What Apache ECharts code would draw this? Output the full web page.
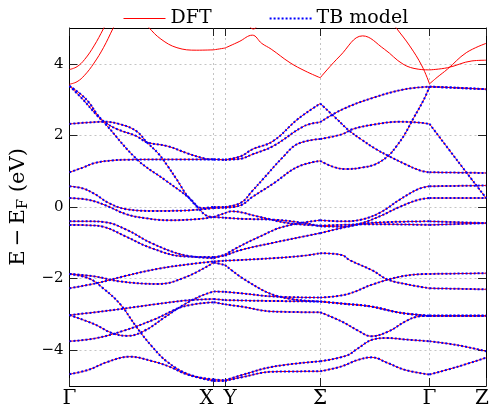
<!DOCTYPE html>
<html>
<head>
<meta charset="utf-8">
<script src="https://cdn.jsdelivr.net/npm/echarts@6.0.0/dist/echarts.min.js"></script>
<style>
html, body { margin: 0; padding: 0; background: #fff; }
#main { width: 492px; height: 409px; }
</style>
</head>
<body>
<div id="main"></div>
<script>
// k-path: high symmetry points and their labels
var kTicks = [0, 1.53, 1.65, 2.66, 3.82, 4.42];
var kLabels = ['Γ', 'X', 'Y', 'Σ', 'Γ', 'Z'];
var eTicks = [-4, -2, 0, 2, 4];

// bands drawn by both DFT and the TB model, [k, E] pairs
var bandA = [[0,3.38],[0.14,3.01],[0.29,2.56],[0.37,2.35],[0.72,1.32],[1.01,0.76],[1.27,0.25],[1.47,-0.26],[1.53,-0.28],[1.65,-0.17],[1.72,-0.12],[1.99,-0.26],[2.32,-0.45],[2.66,-0.52],[2.9,-0.5],[3.2,-0.48],[3.82,-0.5],[4.42,-0.45]];
var bandB = [[0,3.38],[0.12,3.15],[0.21,2.91],[0.29,2.6],[0.37,2.38],[0.51,2.17],[0.71,1.98],[0.82,1.81],[1.04,1.7],[1.25,1.5],[1.44,1.35],[1.53,1.33],[1.65,1.32],[1.82,1.42],[1.94,1.61],[2.16,1.84],[2.42,2.45],[2.66,2.89],[2.82,2.5],[2.96,2.15],[3.1,1.88],[3.25,1.62],[3.39,1.42],[3.56,1.2],[3.72,1.02],[3.82,0.97],[4.42,0.95]];
var bandC = [[0,2.32],[0.14,2.35],[0.37,2.38],[0.54,2.31],[0.71,2.12],[0.82,1.81],[0.94,1.5],[1.04,1.15],[1.14,0.76],[1.27,0.25],[1.41,-0.03],[1.53,0],[1.65,0],[1.82,0.12],[1.94,0.45],[2.06,0.8],[2.26,1.38],[2.42,1.76],[2.66,1.9],[2.89,2.03],[3.0,2.17],[3.22,2.3],[3.5,2.38],[3.7,2.36],[3.82,2.32],[4.12,1.28],[4.42,0.25]];
var bandD = [[0,0.97],[0.14,1.1],[0.27,1.23],[0.45,1.3],[0.61,1.32],[1.0,1.33],[1.53,1.33],[1.65,1.32],[1.82,1.35],[1.94,1.47],[2.16,1.7],[2.49,2.26],[2.66,2.37],[2.89,2.72],[3.22,3.05],[3.56,3.29],[3.82,3.36],[4.1,3.33],[4.42,3.29]];
var bandE = [[0,0.58],[0.14,0.52],[0.27,0.36],[0.41,0.12],[0.6,-0.06],[0.9,-0.11],[1.21,-0.1],[1.53,-0.03],[1.65,-0.02],[1.82,0.05],[1.94,0.28],[2.16,0.65],[2.42,1.12],[2.66,1.29],[2.8,1.12],[2.94,1.06],[3.1,1.1],[3.25,1.2],[3.39,1.45],[3.47,1.7],[3.55,2.0],[3.65,2.48],[3.76,3.0],[3.82,3.36],[4.1,3.33],[4.42,3.29]];
var bandF = [[0,0.25],[0.2,0.2],[0.38,0.05],[0.6,-0.2],[0.8,-0.31],[1.05,-0.37],[1.35,-0.34],[1.53,-0.28],[1.65,-0.3],[1.82,-0.33],[2.2,-0.36],[2.49,-0.45],[2.66,-0.54],[2.9,-0.55],[3.1,-0.45],[3.3,-0.25],[3.5,0.0],[3.7,0.2],[3.82,0.25],[4.42,0.25]];
var bandG = [[0,-0.4],[0.2,-0.4],[0.37,-0.42],[0.61,-0.64],[0.87,-1.01],[1.21,-1.34],[1.53,-1.43],[1.65,-1.33],[1.82,-1.08],[2.0,-0.85],[2.27,-0.55],[2.66,-0.37],[2.9,-0.4],[3.1,-0.35],[3.3,-0.15],[3.5,0.2],[3.7,0.5],[3.82,0.58],[4.42,0.6]];
var bandH = [[0,-0.5],[0.2,-0.51],[0.37,-0.56],[0.61,-0.84],[0.87,-1.15],[1.21,-1.38],[1.53,-1.4],[1.65,-1.36],[1.82,-1.2],[2.16,-1.0],[2.49,-0.82],[2.66,-0.73],[2.9,-0.58],[3.1,-0.47],[3.4,-0.42],[3.82,-0.4],[4.42,-0.45]];
var bandI = [[0,-1.87],[0.27,-1.94],[0.54,-2.08],[0.94,-2.15],[1.24,-1.95],[1.53,-1.55],[1.65,-1.62],[1.89,-2.08],[2.22,-2.5],[2.66,-2.64],[2.9,-2.7],[3.2,-2.78],[3.5,-2.95],[3.82,-3.04],[4.42,-3.04]];
var bandK = [[0,-2.27],[0.3,-2.12],[0.6,-1.92],[0.95,-1.72],[1.27,-1.6],[1.53,-1.52],[1.65,-1.5],[1.82,-1.48],[2.16,-1.43],[2.49,-1.36],[2.66,-1.29],[2.89,-1.34],[2.97,-1.48],[3.22,-1.78],[3.37,-2.02],[3.58,-2.16],[3.82,-2.27],[4.42,-2.3]];
var bandJ = [[0,-1.87],[0.21,-2.0],[0.37,-2.3],[0.54,-2.72],[0.71,-3.35],[0.87,-3.88],[1.04,-4.33],[1.27,-4.68],[1.53,-4.82],[1.65,-4.84],[1.82,-4.7],[2.16,-4.46],[2.66,-4.31],[2.94,-4.15],[3.06,-3.95],[3.22,-3.7],[3.37,-3.66],[3.56,-3.7],[3.82,-3.75],[4.12,-3.86],[4.42,-4.03]];
var bandO = [[0,-4.67],[0.2,-4.55],[0.4,-4.33],[0.64,-4.18],[0.87,-4.3],[1.05,-4.45],[1.25,-4.68],[1.53,-4.86],[1.65,-4.86],[1.82,-4.76],[2.16,-4.6],[2.66,-4.59],[2.89,-4.45],[3.05,-4.28],[3.21,-4.2],[3.37,-4.35],[3.56,-4.55],[3.82,-4.68],[4.12,-4.46],[4.42,-4.21]];
var bandL = [[0,-3.02],[0.27,-2.94],[0.57,-2.84],[0.9,-2.72],[1.24,-2.61],[1.53,-2.57],[1.65,-2.6],[2.0,-2.62],[2.66,-2.64],[2.9,-2.7],[3.2,-2.78],[3.5,-2.95],[3.82,-3.04],[4.42,-3.04]];
var bandM = [[0,-3.02],[0.27,-3.28],[0.45,-3.52],[0.62,-3.6],[0.8,-3.45],[1.0,-3.1],[1.2,-2.75],[1.38,-2.5],[1.53,-2.36],[1.65,-2.37],[1.82,-2.41],[2.16,-2.5],[2.66,-2.53],[2.94,-2.44],[3.22,-2.16],[3.5,-1.95],[3.7,-1.88],[3.82,-1.87],[4.42,-1.85]];
var bandN = [[0,-3.75],[0.27,-3.67],[0.57,-3.46],[0.9,-3.14],[1.21,-2.78],[1.53,-2.66],[1.65,-2.72],[1.82,-2.78],[2.16,-2.92],[2.66,-2.94],[2.89,-3.2],[3.06,-3.45],[3.2,-3.61],[3.39,-3.47],[3.56,-3.2],[3.7,-3.06],[3.82,-3.04],[4.42,-3.04]];

// higher bands only in DFT
var dftR1 = [[0,3.84],[0.08,3.92],[0.16,4.12],[0.26,4.5],[0.36,4.98],[0.42,5.3]];
var dftR2 = [[0,3.43],[0.08,3.5],[0.16,3.68],[0.26,4.02],[0.36,4.45],[0.46,4.98],[0.52,5.3]];
var dftR3 = [[0.76,5.3],[0.84,5.02],[0.97,4.69],[1.14,4.45],[1.35,4.38],[1.53,4.39],[1.65,4.44],[1.8,4.62],[1.94,4.8],[2.04,4.57],[2.14,4.41],[2.34,4.03],[2.5,3.8],[2.66,3.61],[2.87,4.22],[3.11,4.78],[3.34,4.41],[3.54,3.99],[3.7,3.85],[3.82,3.83],[4.01,3.89],[4.27,4.08],[4.42,4.1]];
var dftR4 = [[3.35,5.4],[3.47,4.99],[3.61,4.5],[3.74,3.94],[3.82,3.44],[3.9,3.62],[4.01,3.85],[4.21,4.31],[4.42,4.57]];
var dftR5 = [[1.85,5.3],[1.95,4.97],[2.05,5.3]];

var tbBands = [bandA, bandB, bandC, bandD, bandE, bandF, bandG, bandH, bandI, bandK, bandJ, bandO, bandL, bandM, bandN];
var dftOnly = [dftR1, dftR2, dftR3, dftR4, dftR5];

var FONT = 'DejaVu Serif';

function isNode(k) {
    for (var i = 0; i < kTicks.length; i++) {
        if (Math.abs(kTicks[i] - k) < 1e-6) return true;
    }
    return false;
}
// cut a band at the high symmetry points so kinks stay sharp
function pieces(pts) {
    var out = [], cur = [];
    pts.forEach(function (p, i) {
        cur.push(p);
        if (i > 0 && i < pts.length - 1 && isNode(p[0])) {
            out.push(cur);
            cur = [p];
        }
    });
    out.push(cur);
    return out;
}

var dftStyle = {color: '#ff0000', width: 1, type: 'solid'};
var tbStyle = {color: '#0000ff', width: 2, type: [2, 2]};

var series = [];
function addBand(pts, name, style, z) {
    pieces(pts).forEach(function (seg) {
        series.push({
            name: name,
            type: 'line',
            data: seg,
            smooth: 0.4,
            symbol: 'none',
            silent: true,
            z: z,
            lineStyle: style,
            itemStyle: {color: style.color}
        });
    });
}
tbBands.forEach(function (b) { addBand(b, 'DFT', dftStyle, 2); });
dftOnly.forEach(function (b) { addBand(b, 'DFT', dftStyle, 2); });
tbBands.forEach(function (b) { addBand(b, 'TB model', tbStyle, 3); });

var labelKeys = ['g', 'x', 'y', 's', 'g', 'z'];
function kLabel(v) {
    for (var i = 0; i < kTicks.length; i++) {
        if (Math.abs(kTicks[i] - v) < 1e-6) return '{' + labelKeys[i] + '|' + kLabels[i] + '}';
    }
    return '';
}

var frameLine = {show: true, onZero: false, lineStyle: {color: '#000', width: 1}};
var gridDash = {show: true, lineStyle: {color: '#c4c4c4', width: 1, type: [2, 3]}};

var chart = echarts.init(document.getElementById('main'), null, {renderer: 'canvas'});
chart.setOption({
    animation: false,
    backgroundColor: '#fff',
    legend: {
        data: [
            {name: 'DFT', lineStyle: {width: 1}},
            {name: 'TB model', lineStyle: {width: 2}}
        ],
        left: 118,
        top: 4,
        itemWidth: 42,
        itemHeight: 14,
        itemGap: 57,
        selectedMode: false,
        itemStyle: {opacity: 0},
        textStyle: {fontFamily: FONT, fontSize: 19, color: '#000'}
    },
    grid: {left: 46, right: 4, top: 28, bottom: 23},
    xAxis: [{
        type: 'value', min: 0, max: 4.42, position: 'bottom',
        axisLine: frameLine,
        axisTick: {show: true, inside: true, length: 8, customValues: kTicks, lineStyle: {color: '#222'}},
        axisLabel: {
            customValues: kTicks, formatter: kLabel, margin: 3,
            fontFamily: FONT, fontSize: 20, color: '#000',
            rich: {
                g: {fontFamily: FONT, fontSize: 20},
                x: {fontFamily: FONT, fontSize: 20, padding: [0, 14, 0, 0]},
                y: {fontFamily: FONT, fontSize: 20, padding: [0, 0, 0, 10]},
                s: {fontFamily: FONT, fontSize: 20},
                z: {fontFamily: FONT, fontSize: 20, padding: [0, 8, 0, 0]}
            }
        },
        splitLine: gridDash
    }, {
        type: 'value', min: 0, max: 4.42, position: 'top',
        axisLine: frameLine,
        axisTick: {show: true, inside: true, length: 8, customValues: kTicks, lineStyle: {color: '#222'}},
        axisLabel: {show: false},
        splitLine: {show: false}
    }],
    yAxis: [{
        type: 'value', min: -5, max: 5, position: 'left',
        name: '{a|E\u2009−\u2009E}{s|F}{a| (eV)}',
        nameLocation: 'middle',
        nameGap: 19,
        nameTextStyle: {
            fontFamily: FONT, fontSize: 21, color: '#000',
            rich: {
                a: {fontFamily: FONT, fontSize: 21},
                s: {fontFamily: FONT, fontSize: 15, padding: [9, 0, 0, 0]}
            }
        },
        axisLine: frameLine,
        axisTick: {show: true, inside: true, length: 8, customValues: eTicks, lineStyle: {color: '#222'}},
        axisLabel: {
            customValues: eTicks, margin: 6,
            fontFamily: FONT, fontSize: 15, color: '#000',
            formatter: function (v) { return v < 0 ? '−' + (-v) : String(v); }
        },
        splitLine: gridDash
    }, {
        type: 'value', min: -5, max: 5, position: 'right',
        axisLine: frameLine,
        axisTick: {show: true, inside: true, length: 8, customValues: eTicks, lineStyle: {color: '#222'}},
        axisLabel: {show: false},
        splitLine: {show: false}
    }],
    series: series
});
</script>
</body>
</html>
